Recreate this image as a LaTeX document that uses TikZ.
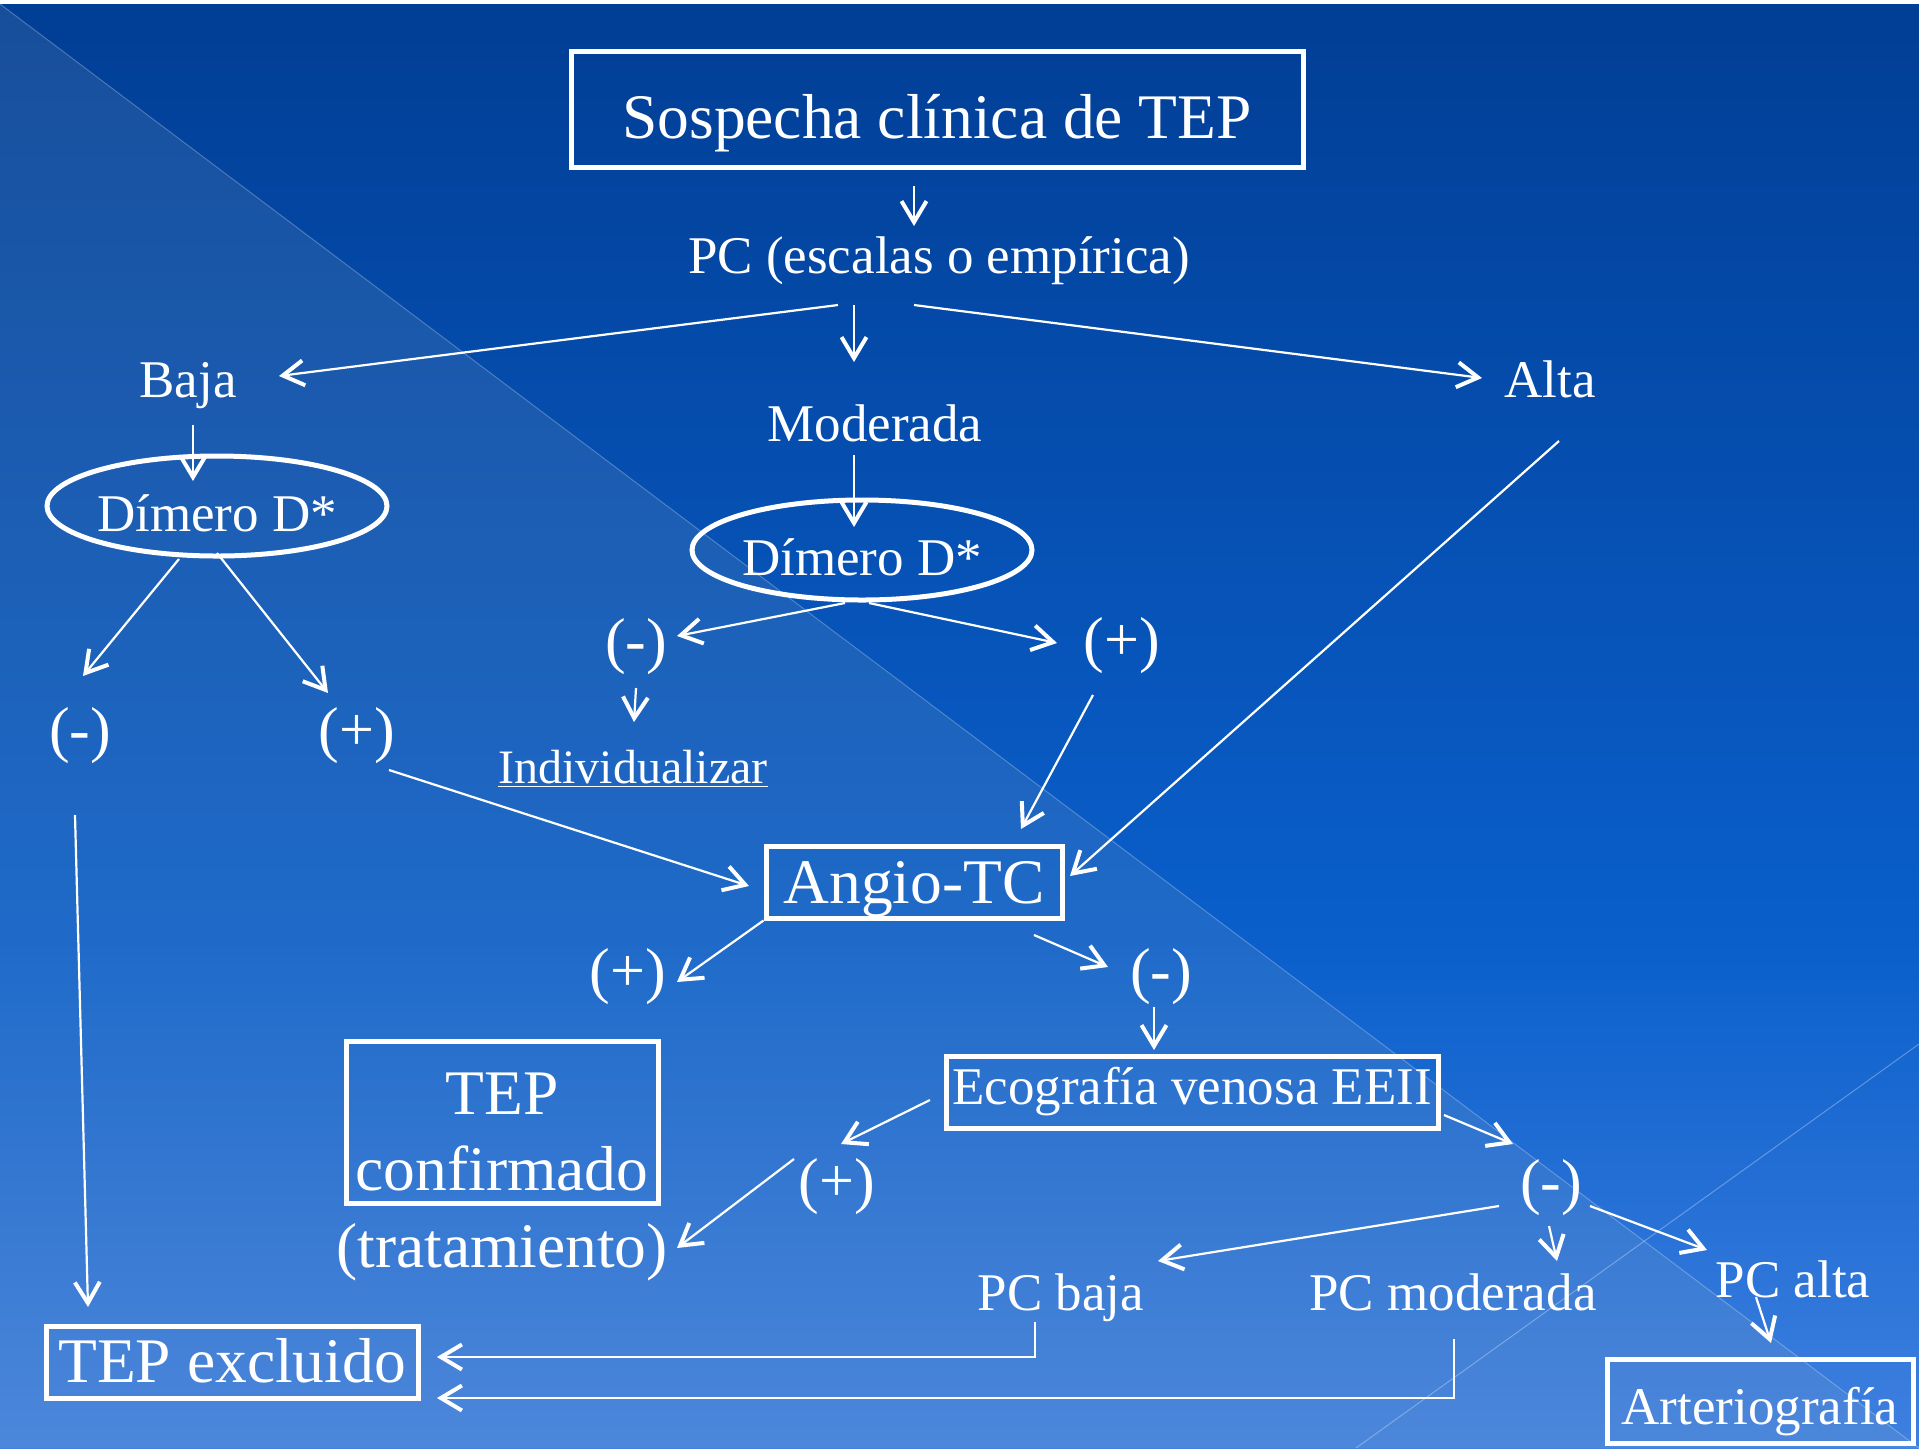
\documentclass[tikz,border=0pt]{standalone}
\usepackage{fontspec}
\setmainfont{Liberation Serif}
\usetikzlibrary{arrows.meta,shapes.geometric,calc}

\definecolor{bgtop}{HTML}{013E95}
\definecolor{bgmid}{HTML}{0A5FCB}
\definecolor{bgbot}{HTML}{3F80E0}
\definecolor{veil}{HTML}{9AAFC0}
\pgfdeclareverticalshading{bgshade}{100bp}{color(0bp)=(bgbot); color(25bp)=(bgbot); color(42.5bp)=(bgmid); color(75bp)=(bgtop); color(100bp)=(bgtop)}

\newcommand\bigtxt{\fontsize{31.75}{38}\selectfont}
\newcommand\midtxt{\fontsize{26.5}{32}\selectfont}
\newcommand\signtxt{\fontsize{31}{37}\selectfont}
\newcommand\undtxt{\fontsize{24}{29}\selectfont}

\begin{document}
\begin{tikzpicture}[x=0.5pt, y=-0.5pt,
    >={Straight Barb[length=10.5pt,width=12.5pt,line width=2pt]},
    box/.style={draw=white, line width=2.5pt, inner sep=0pt, text=white, text depth=0pt},
    oval/.style={ellipse, draw=white, line width=2.5pt, inner sep=0pt, text=white,
                 minimum width=170pt, minimum height=50pt, text height=25pt, text depth=0pt, font=\midtxt},
    txt/.style={inner sep=0pt, text=white, font=\midtxt, anchor=base},
    sign/.style={inner sep=0pt, text=white, font=\signtxt},
    link/.style={->, white, line width=1.1pt}]

    % Background
    \useasboundingbox (0,0) rectangle (1919,1448);
    \shade [shading=bgshade] (0,0) rectangle (1919,1448);
    \fill [veil, opacity=0.15] (0,4) -- (0,1448) -- (1919,1448) -- cycle;
    \draw [white, opacity=0.25, line width=0.5pt] (0,4) -- (1919,1448);
    \draw [white, opacity=0.3, line width=0.5pt] (1356,1448) -- (1919,1044);
    \fill [white] (0,0) rectangle (1919,4);

    % Nodes
    \node [box, minimum width=366pt, minimum height=58pt, text height=29pt, font=\bigtxt] (sosp) at (937,109) {Sospecha clínica de TEP};
    \node [txt] (pc)     at (939,273)  {PC (escalas o empírica)};
    \node [txt] (baja)   at (188,397)  {Baja};
    \node [txt] (mod)    at (875,441)  {Moderada};
    \node [txt] (alta)   at (1550,397) {Alta};
    \node [oval] (dimA)  at (217,506)  {Dímero D*};
    \node [oval] (dimB)  at (862,550)  {Dímero D*};
    \node [sign] (mneg)  at (636,647)  {(-)};
    \node [sign] (mpos)  at (1122,646) {(+)};
    \node [txt, font=\undtxt] (indiv) at (633,783) {\underline{Individualizar}};
    \node [sign] (lneg)  at (80,736)   {(-)};
    \node [sign] (lpos)  at (357,736)  {(+)};
    \node [box, minimum width=148pt, minimum height=36pt, text height=21pt, font=\bigtxt] (angio) at (914,882) {Angio-TC};
    \node [sign] (apos)  at (628,977)  {(+)};
    \node [sign] (aneg)  at (1161,977) {(-)};
    \node [box, minimum width=156pt, minimum height=81pt, text height=68pt, align=center, font=\bigtxt] (conf) at (502,1122) {TEP\\confirmado};
    \node [txt, font=\bigtxt] (trat) at (502,1267) {(tratamiento)};
    \node [box, minimum width=246pt, minimum height=36pt, text height=12pt, font=\midtxt] (eco) at (1192,1092) {Ecografía venosa EEII};
    \node [sign] (epos)  at (837,1187) {(+)};
    \node [sign] (eneg)  at (1551,1188) {(-)};
    \node [txt] (pcbaja) at (1061,1310) {PC baja};
    \node [txt] (pcmod)  at (1453,1310) {PC moderada};
    \node [txt] (pcalta) at (1793,1297) {PC alta};
    \node [box, minimum width=186pt, minimum height=36pt, text height=20pt, font=\bigtxt] (excl) at (232,1362) {TEP excluido};
    \node [box, minimum width=153pt, minimum height=42pt, text height=23.5pt, font=\midtxt] (arterio) at (1760,1401) {Arteriografía};

    % Paths
    \draw [link] ($(sosp.center)+(-23,77)$) -- ($(pc.base)+(-25,-47)$);
    \draw [link] ($(pc.base)+(-101,32)$) -- ($(baja.base)+(91,-21)$);
    \draw [link] ($(pc.base)+(-85,32)$)  -- ($(mod.base)+(-21,-79)$);
    \draw [link] ($(pc.base)+(-25,32)$)  -- ($(alta.base)+(-68,-19)$);
    \draw [link] ($(baja.base)+(5,28)$)  -- ($(dimA.center)+(-24,-25)$);
    \draw [link] ($(mod.base)+(-21,14)$) -- ($(dimB.center)+(-8,-23)$);
    \draw [link] ($(dimA.center)+(-38,53)$) -- ($(lneg.center)+(3,-60)$);
    \draw [link] ($(dimA.center)+(0,47)$)   -- ($(lpos.center)+(-29,-43)$);
    \draw [link] ($(dimB.center)+(-17,53)$) -- ($(mneg.center)+(41,-11)$);
    \draw [link] ($(dimB.center)+(7,53)$)   -- ($(mpos.center)+(-65,-3)$);
    \draw [link] ($(mneg.center)+(0,41)$)   -- ($(indiv.base)+(1,-61)$);
    \draw [link] ($(mpos.center)+(-29,49)$) -- ($(angio.center)+(107,-53)$);
    \draw [link] ($(alta.base)+(9,44)$)     -- ($(angio.center)+(156,-6)$);
    \draw [link] ($(lpos.center)+(32,34)$)  -- ($(angio.center)+(-165,4)$);
    \draw [link] ($(lneg.center)+(-5,79)$)  -- ($(excl.center)+(-144,-55)$);
    \draw [link] (angio.south west)         -- ($(apos.center)+(49,5)$);
    \draw [link] ($(angio.center)+(120,53)$) -- ($(aneg.center)+(-53,-10)$);
    \draw [link] ($(aneg.center)+(-7,30)$)  -- ($(eco.center)+(-38,-42)$);
    \draw [link] ($(eco.center)+(-262,8)$)  -- ($(epos.center)+(4,-43)$);
    \draw [link] ($(epos.center)+(-43,-28)$) -- ($(trat.base)+(175,-19)$);
    \draw [link] ($(eco.center)+(252,23)$)  -- ($(eneg.center)+(-38,-44)$);
    \draw [link] ($(eneg.center)+(-52,18)$) -- ($(pcbaja.base)+(97,-49)$);
    \draw [link] ($(eneg.center)+(-2,38)$)  -- ($(pcmod.base)+(104,-49)$);
    \draw [link] ($(eneg.center)+(39,18)$)  -- ($(pcalta.base)+(-86,-47)$);
    \draw [link] ($(pcalta.base)+(-37,0)$)  -- ($(arterio.center)+(11,-58)$);
    \draw [link] ($(pcbaja.base)+(-26,12)$) |- ($(excl.center)+(205,-5)$);
    \draw [link] ($(pcmod.base)+(1,29)$)    |- ($(excl.center)+(205,36)$);

\end{tikzpicture}
\end{document}
